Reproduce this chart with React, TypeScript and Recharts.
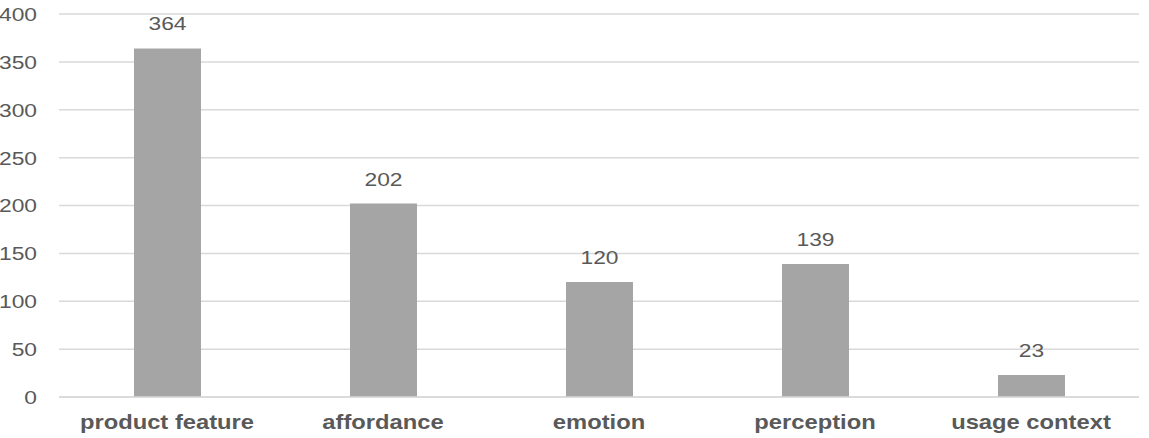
import React from 'react';
import { BarChart, Bar, XAxis, YAxis, CartesianGrid, LabelList } from 'recharts';

const categories = ['product feature', 'affordance', 'emotion', 'perception', 'usage context'];
const counts = [364, 202, 120, 139, 23];
const yTicks = [0, 50, 100, 150, 200, 250, 300, 350, 400];

const data = categories.map((c, i) => ({ name: c, value: counts[i] }));

const SX = 1.2;
const FONT = '"Liberation Sans", Arial, sans-serif';

const YTick = (props: any) => {
  const { y, payload } = props;
  const x = 37;
  return (
    <text
      x={x}
      y={y}
      dy={7}
      textAnchor="end"
      fill="#595959"
      fontSize={19}
      fontFamily={FONT}
      transform={`translate(${x} ${y}) scale(${SX} 1) translate(${-x} ${-y})`}
    >
      {payload.value}
    </text>
  );
};

const XTick = (props: any) => {
  const { x, payload } = props;
  const y = 429;
  return (
    <text
      x={x}
      y={y}
      textAnchor="middle"
      fill="#595959"
      fontSize={19.8}
      fontWeight="bold"
      fontFamily={FONT}
      transform={`translate(${x} ${y}) scale(${SX} 1) translate(${-x} ${-y})`}
    >
      {payload.value}
    </text>
  );
};

const ValueLabel = (props: any) => {
  const { x, y, width, value } = props;
  const cx = x + width / 2;
  const by = y - 18;
  return (
    <text
      x={cx}
      y={by}
      textAnchor="middle"
      fill="#595959"
      fontSize={19}
      fontFamily={FONT}
      transform={`translate(${cx} ${by}) scale(${SX} 1) translate(${-cx} ${-by})`}
    >
      {value}
    </text>
  );
};

export default function App() {
  return (
    <div style={{ position: 'absolute', left: 0, top: 0, background: '#fff' }}>
      <BarChart
        width={1149}
        height={438}
        data={data}
        margin={{ top: 14, right: 10, left: 0, bottom: 11 }}
      >
        <CartesianGrid vertical={false} stroke="#D9D9D9" strokeWidth={1.5} />
        <XAxis
          dataKey="name"
          height={30}
          axisLine={{ stroke: '#D9D9D9', strokeWidth: 1.5 }}
          tickLine={false}
          tick={<XTick />}
          interval={0}
        />
        <YAxis
          width={59}
          domain={[0, 400]}
          ticks={yTicks}
          axisLine={false}
          tickLine={false}
          tick={<YTick />}
          interval={0}
        />
        <Bar dataKey="value" fill="#A5A5A5" barSize={67} isAnimationActive={false}>
          <LabelList dataKey="value" content={<ValueLabel />} />
        </Bar>
      </BarChart>
    </div>
  );
}
